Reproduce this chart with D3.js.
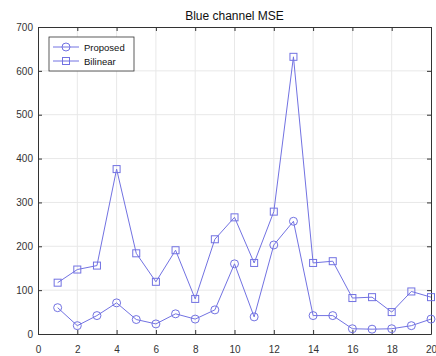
<!DOCTYPE html>
<html><head><meta charset="utf-8">
<script src="https://cdn.jsdelivr.net/npm/d3@7"></script>
<style>body{margin:0;background:#fff}svg{display:block;font-family:"Liberation Sans",Arial,sans-serif}</style>
</head><body><svg id="c" width="436" height="356"></svg>
<script>
const xs = d3.range(1, 21);
const proposed = [60, 19, 42, 71, 33, 23, 46, 34, 55, 160, 39, 203, 257, 42, 42, 12, 11, 12, 19, 34];
const bilinear = [117, 147, 156, 376, 184, 119, 191, 80, 216, 266, 162, 279, 632, 162, 166, 82, 84, 50, 97, 84];
const seriesNames = ["Proposed", "Bilinear"];
const xTicks = d3.range(0, 21, 2);
const yTicks = d3.range(0, 701, 100);
const titleText = "Blue channel MSE";

const svg = d3.select("#c");
const L = 38, R = 431, T = 27, B = 334;
const x = d3.scaleLinear().domain([0, 20]).range([L, R]);
const y = d3.scaleLinear().domain([0, 700]).range([B, T]);
const col = "#7272e2";

// grid
svg.append("g").selectAll("line").data(xTicks.slice(1, -1)).join("line")
  .attr("x1", d => x(d)).attr("x2", d => x(d)).attr("y1", T).attr("y2", B)
  .attr("stroke", "#e8e8e8").attr("stroke-width", 1);
svg.append("g").selectAll("line").data(yTicks.slice(1, -1)).join("line")
  .attr("y1", d => y(d)).attr("y2", d => y(d)).attr("x1", L).attr("x2", R)
  .attr("stroke", "#e8e8e8").attr("stroke-width", 1);

// axes
const ax = svg.append("g").attr("transform", `translate(0,${B})`)
  .call(d3.axisBottom(x).tickValues(xTicks).tickSizeInner(-4).tickSizeOuter(0).tickPadding(12));
const ay = svg.append("g").attr("transform", `translate(${L},0)`)
  .call(d3.axisLeft(y).tickValues(yTicks).tickSizeInner(-4).tickSizeOuter(0).tickPadding(5));
const axT = svg.append("g").attr("transform", `translate(0,${T})`)
  .call(d3.axisTop(x).tickValues(xTicks).tickSizeInner(-4).tickSizeOuter(0).tickFormat(""));
const ayR = svg.append("g").attr("transform", `translate(${R},0)`)
  .call(d3.axisRight(y).tickValues(yTicks).tickSizeInner(-4).tickSizeOuter(0).tickFormat(""));
[ax, ay, axT, ayR].forEach(g => {
  g.select(".domain").attr("stroke", "#333");
  g.selectAll(".tick line").attr("stroke", "#333");
  g.selectAll("text").attr("font-size", 10).attr("fill", "#333").attr("font-family", "Liberation Sans, Arial, sans-serif");
});

// title
svg.append("text").attr("x", (L + R) / 2).attr("y", 20).attr("text-anchor", "middle")
  .attr("font-size", 12).attr("fill", "#111").text(titleText);

// lines
const line = d3.line().x((d, i) => x(xs[i])).y(d => y(d));
[proposed, bilinear].forEach(data => {
  svg.append("path").datum(data).attr("d", line).attr("fill", "none")
    .attr("stroke", col).attr("stroke-width", 1);
});
// markers
svg.append("g").selectAll("circle").data(proposed).join("circle")
  .attr("cx", (d, i) => x(xs[i])).attr("cy", d => y(d)).attr("r", 4)
  .attr("fill", "none").attr("stroke", col).attr("stroke-width", 1);
svg.append("g").selectAll("rect").data(bilinear).join("rect")
  .attr("x", (d, i) => x(xs[i]) - 3.5).attr("y", d => y(d) - 3.5).attr("width", 7).attr("height", 7)
  .attr("fill", "none").attr("stroke", col).attr("stroke-width", 1);

// legend
const lg = svg.append("g");
lg.append("rect").attr("x", 49).attr("y", 37).attr("width", 85).attr("height", 34)
  .attr("fill", "#fff").attr("stroke", "#333").attr("stroke-width", 0.8);
seriesNames.forEach((name, i) => {
  const yy = 47 + i * 14;
  lg.append("line").attr("x1", 53).attr("x2", 79).attr("y1", yy).attr("y2", yy)
    .attr("stroke", col).attr("stroke-width", 1);
  if (i === 0) {
    lg.append("circle").attr("cx", 66).attr("cy", yy).attr("r", 4).attr("fill", "none").attr("stroke", col);
  } else {
    lg.append("rect").attr("x", 62.5).attr("y", yy - 3.5).attr("width", 7).attr("height", 7).attr("fill", "none").attr("stroke", col);
  }
  lg.append("text").attr("x", 84).attr("y", yy + 3.5).attr("font-size", 9.5).attr("fill", "#111").text(name);
});
</script></body></html>
